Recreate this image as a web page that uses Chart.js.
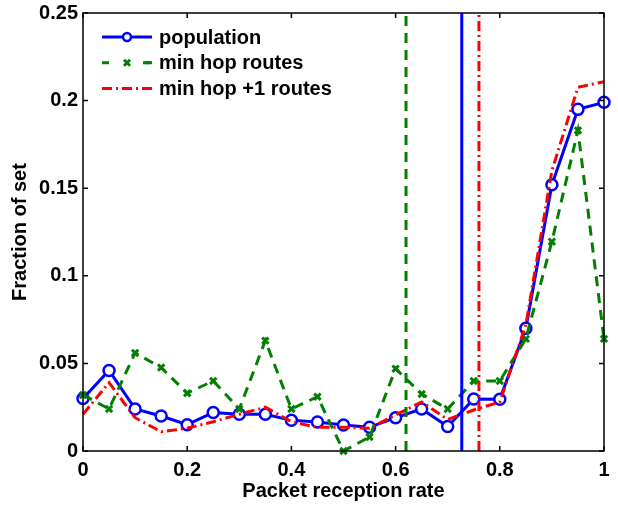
<!DOCTYPE html>
<html>
<head>
<meta charset="utf-8">
<script src="https://cdn.jsdelivr.net/npm/chart.js@4"></script>
<style>
  body { margin: 0; background: #fff; }
  #wrap { width: 618px; height: 508px; }
</style>
</head>
<body>
<div id="wrap"><canvas id="chart" width="618" height="508"></canvas></div>
<script>
// packet reception rate bins
const rate = [0, 0.05, 0.1, 0.15, 0.2, 0.25, 0.3, 0.35, 0.4, 0.45, 0.5,
              0.55, 0.6, 0.65, 0.7, 0.75, 0.8, 0.85, 0.9, 0.95, 1];
const population = [0.030, 0.046, 0.024, 0.020, 0.015, 0.022, 0.021, 0.021, 0.0175, 0.0165, 0.0148,
                    0.0135, 0.019, 0.024, 0.014, 0.0297, 0.0295, 0.070, 0.152, 0.195, 0.199];
const minHop = [0.032, 0.024, 0.056, 0.0476, 0.033, 0.040, 0.024, 0.063, 0.024, 0.031, 0.0,
                0.008, 0.047, 0.0325, 0.024, 0.040, 0.040, 0.064, 0.1195, 0.183, 0.064];
const minHopPlus1 = [0.021, 0.039, 0.019, 0.011, 0.013, 0.0167, 0.021, 0.025, 0.0167, 0.0135, 0.0135,
                     0.013, 0.0205, 0.028, 0.018, 0.0234, 0.028, 0.072, 0.160, 0.2076, 0.2108];
// mean reception rate of each set (vertical lines)
const meanPopulation = 0.727;
const meanMinHop = 0.62;
const meanMinHopPlus1 = 0.76;

const xTicks = [0, 0.2, 0.4, 0.6, 0.8, 1];
const yTicks = [0, 0.05, 0.1, 0.15, 0.2, 0.25];

const BLUE = '#0000ff', GREEN = '#007f00', RED = '#ff0000';
const FONT = { family: "'Liberation Sans', Arial, sans-serif", size: 20, weight: 'bold' };
const DASH_GREEN = [10, 7];
const DASH_RED = [10, 4, 2, 4];

const pts = ys => rate.map((x, i) => ({ x: x, y: ys[i] }));
const vline = x => [{ x: x, y: yTicks[0] }, { x: x, y: yTicks[yTicks.length - 1] }];

const boxTicks = {
  id: 'boxTicks',
  afterDatasetsDraw(chart) {
    const { ctx, chartArea: a, scales: { x, y } } = chart;
    ctx.save();
    ctx.strokeStyle = '#000';
    ctx.lineWidth = 1.5;
    ctx.setLineDash([]);
    ctx.strokeRect(a.left, a.top, a.right - a.left, a.bottom - a.top);
    ctx.beginPath();
    for (const v of xTicks) {
      const px = x.getPixelForValue(v);
      ctx.moveTo(px, a.bottom); ctx.lineTo(px, a.bottom - 5);
      ctx.moveTo(px, a.top); ctx.lineTo(px, a.top + 5);
    }
    for (const v of yTicks) {
      const py = y.getPixelForValue(v);
      ctx.moveTo(a.left, py); ctx.lineTo(a.left + 5, py);
      ctx.moveTo(a.right, py); ctx.lineTo(a.right - 5, py);
    }
    ctx.stroke();
    ctx.restore();
  }
};

const innerLegend = {
  id: 'innerLegend',
  afterDraw(chart) {
    const { ctx } = chart;
    ctx.save();
    ctx.font = `${FONT.weight} ${FONT.size}px ${FONT.family}`;
    ctx.textBaseline = 'middle';
    for (let i = 0; i < 3; i++) {
      const ds = chart.data.datasets[i];
      const y = 37 + i * 25.7;
      ctx.strokeStyle = ds.borderColor;
      ctx.lineWidth = 3;
      ctx.setLineDash(i === 1 ? [7, 34] : (ds.borderDash || []));
      ctx.beginPath();
      ctx.moveTo(102, y); ctx.lineTo(152, y);
      ctx.stroke();
      if (i === 1) {
        ctx.beginPath(); ctx.moveTo(145, y); ctx.lineTo(152, y); ctx.stroke();
      }
      ctx.setLineDash([]);
      if (ds.pointRadius > 0) {
        ctx.lineWidth = ds.pointBorderWidth;
        ctx.strokeStyle = ds.borderColor;
        ctx.beginPath();
        if (ds.pointStyle === 'circle') {
          ctx.fillStyle = '#fff';
          ctx.arc(127, y, 4, 0, Math.PI * 2);
          ctx.fill();
        } else {
          const r = 3;
          ctx.moveTo(127 - r, y - r); ctx.lineTo(127 + r, y + r);
          ctx.moveTo(127 + r, y - r); ctx.lineTo(127 - r, y + r);
        }
        ctx.stroke();
      }
      ctx.fillStyle = '#000';
      ctx.fillText(ds.label, 159, y + 1);
    }
    ctx.restore();
  }
};

new Chart(document.getElementById('chart'), {
  type: 'line',
  data: {
    datasets: [
      { label: 'population', data: pts(population), borderColor: BLUE, borderWidth: 3,
        pointStyle: 'circle', pointRadius: 5.5, pointBorderWidth: 2.5, pointBackgroundColor: '#fff',
        pointBorderColor: BLUE, order: 3, clip: false },
      { label: 'min hop routes', data: pts(minHop), borderColor: GREEN, borderWidth: 3,
        borderDash: DASH_GREEN, pointStyle: 'crossRot', pointRadius: 4.5, pointBorderWidth: 3,
        pointBorderColor: GREEN, order: 2, clip: false },
      { label: 'min hop +1 routes', data: pts(minHopPlus1), borderColor: RED, borderWidth: 3,
        borderDash: DASH_RED, pointRadius: 0, order: 1, clip: false },
      { label: 'mean population', data: vline(meanPopulation), borderColor: BLUE, borderWidth: 3,
        pointRadius: 0, order: 0 },
      { label: 'mean min hop', data: vline(meanMinHop), borderColor: GREEN, borderWidth: 3,
        borderDash: DASH_GREEN, pointRadius: 0, order: 0 },
      { label: 'mean min hop +1', data: vline(meanMinHopPlus1), borderColor: RED, borderWidth: 3,
        borderDash: DASH_RED, pointRadius: 0, order: 0 }
    ]
  },
  options: {
    responsive: false,
    animation: false,
    layout: { padding: { top: 13, right: 14, left: 0, bottom: 0 } },
    elements: { line: { tension: 0 } },
    plugins: { legend: { display: false }, tooltip: { enabled: false } },
    scales: {
      x: {
        type: 'linear', min: 0, max: 1,
        afterBuildTicks: s => { s.ticks = xTicks.map(v => ({ value: v })); },
        afterFit: s => { s.height = 57; s.paddingLeft = 0; s.paddingRight = 0; },
        grid: { display: false, drawTicks: false },
        border: { display: false },
        ticks: { color: '#000', font: FONT, padding: 7, maxRotation: 0,
                 callback: v => String(+v.toFixed(2)) },
        title: { display: true, text: 'Packet reception rate', color: '#000', font: FONT,
                 padding: { top: 0, bottom: 5 } }
      },
      y: {
        type: 'linear', min: 0, max: 0.25,
        afterBuildTicks: s => { s.ticks = yTicks.map(v => ({ value: v })); },
        afterFit: s => { s.width = 83; s.paddingTop = 0; s.paddingBottom = 0; },
        grid: { display: false, drawTicks: false },
        border: { display: false },
        ticks: { color: '#000', font: FONT, padding: 5,
                 callback: v => String(+v.toFixed(2)) },
        title: { display: true, text: 'Fraction of set', color: '#000', font: FONT,
                 padding: { top: 8, bottom: 0 } }
      }
    }
  },
  plugins: [boxTicks, innerLegend]
});
</script>
</body>
</html>
